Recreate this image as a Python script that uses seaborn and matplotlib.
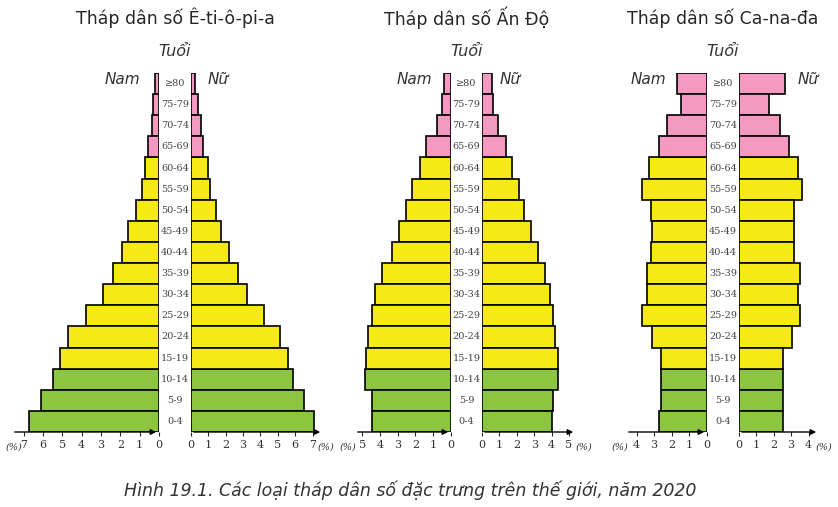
import numpy as np
import pandas as pd
import seaborn as sns
import matplotlib.pyplot as plt

sns.set_style("white")
plt.rcParams["font.family"] = ["DejaVu Sans"]

ages = ["0-4", "5-9", "10-14", "15-19", "20-24", "25-29", "30-34", "35-39", "40-44",
        "45-49", "50-54", "55-59", "60-64", "65-69", "70-74", "75-79", "≥80"]
groups = ["young"] * 3 + ["adult"] * 10 + ["old"] * 4

eth_male = [6.7, 6.1, 5.5, 5.1, 4.7, 3.8, 2.9, 2.4, 1.9, 1.6, 1.2, 0.86, 0.7, 0.55, 0.38, 0.3, 0.2]
eth_female = [7.1, 6.5, 5.9, 5.6, 5.1, 4.2, 3.2, 2.7, 2.2, 1.75, 1.45, 1.1, 1.0, 0.7, 0.55, 0.38, 0.25]
ind_male = [4.43, 4.47, 4.85, 4.8, 4.66, 4.47, 4.25, 3.9, 3.34, 2.92, 2.53, 2.17, 1.77, 1.42, 0.8, 0.5, 0.38]
ind_female = [4.0, 4.1, 4.35, 4.35, 4.2, 4.05, 3.9, 3.6, 3.2, 2.8, 2.4, 2.1, 1.75, 1.4, 0.92, 0.63, 0.6]
can_male = [2.7, 2.63, 2.63, 2.6, 3.14, 3.68, 3.43, 3.43, 3.2, 3.1, 3.2, 3.68, 3.3, 2.72, 2.29, 1.47, 1.71]
can_female = [2.52, 2.52, 2.52, 2.52, 3.04, 3.52, 3.42, 3.52, 3.19, 3.15, 3.19, 3.61, 3.38, 2.9, 2.37, 1.7, 2.62]

palette = {"young": "#8cc63f", "adult": "#f5e916", "old": "#f49ac1"}

W, H = 838, 507
fig = plt.figure(figsize=(W / 100, H / 100), dpi=100)


def px_axes(x0, x1, y0=73, y1=432):
    return fig.add_axes([x0 / W, 1 - y1 / H, (x1 - x0) / W, (y1 - y0) / H])


def side(ax, values, xmax, ticks, left):
    df = pd.DataFrame({"age": ages, "val": values, "group": groups})
    sns.barplot(data=df, y="age", x="val", hue="group", palette=palette, order=ages[::-1],
                dodge=False, width=1.0, saturation=1, edgecolor="black", linewidth=1.2,
                legend=False, ax=ax)
    ax.set_xlim((xmax, 0) if left else (0, xmax))
    ax.set_ylim(16.5, -0.5)
    ax.set_xlabel("")
    ax.set_ylabel("")
    ax.set_yticks([])
    ax.set_xticks(ticks)
    ax.set_xticklabels([str(t) for t in ticks], family="serif", fontsize=8, color="#333333")
    ax.tick_params(axis="x", length=3, width=0.8, pad=3, bottom=True)
    for s in ax.spines.values():
        s.set_visible(False)
    ax.patch.set_alpha(0)
    ax.annotate("", xy=(1, 0), xytext=(0, 0), xycoords="axes fraction",
                arrowprops=dict(arrowstyle="-|>", color="black", lw=1, mutation_scale=8))


# title, male, female, left axes px, right axes px, xmax, ticks, Nam x, Nu x, (%) left x, (%) right x
pyramids = [
    ("Tháp dân số Ê-ti-ô-pi-a", eth_male, eth_female, (12, 159), (191, 323), 7.6, range(0, 8),
     140, 208, 6, 318),
    ("Tháp dân số Ấn Độ", ind_male, ind_female, (355, 451), (482, 576), 5.4, range(0, 6),
     432, 500, 340, 576),
    ("Tháp dân số Ca-na-đa", can_male, can_female, (626, 707), (739, 819), 4.6, range(0, 5),
     666, 798, 612, 816),
]

for title, male, female, lx, rx, xmax, ticks, namx, nux, pl, pr in pyramids:
    axl = px_axes(*lx)
    side(axl, male, xmax, list(ticks), True)
    axr = px_axes(*rx)
    side(axr, female, xmax, list(ticks), False)
    cx = (lx[1] + rx[0]) / 2
    for i, a in enumerate(ages):
        y = 73 + (16 - i + 0.5) * (432 - 73) / 17
        fig.text(cx / W, 1 - y / H, a, ha="center", va="center", fontsize=7,
                 family="serif", color="#444444")
    fig.text(cx / W, 1 - 18 / H, title, ha="center", va="center", fontsize=12.5)
    fig.text(cx / W, 1 - 52 / H, "Tuổi", ha="center", va="center", fontsize=11.5,
             style="italic", color="#333333")
    fig.text(namx / W, 1 - 80 / H, "Nam", ha="right", va="center", fontsize=11,
             style="italic", color="#333333")
    fig.text(nux / W, 1 - 80 / H, "Nữ", ha="left", va="center", fontsize=11,
             style="italic", color="#333333")
    for px in (pl, pr):
        fig.text(px / W, 1 - 447 / H, "(%)", ha="left", va="center", fontsize=7,
                 style="italic", family="serif", color="#333333")

fig.text(410 / W, 1 - 490 / H, "Hình 19.1. Các loại tháp dân số đặc trưng trên thế giới, năm 2020",
         ha="center", va="center", fontsize=12.5, style="italic", color="#333333")

fig.savefig("out.png", dpi=100)
